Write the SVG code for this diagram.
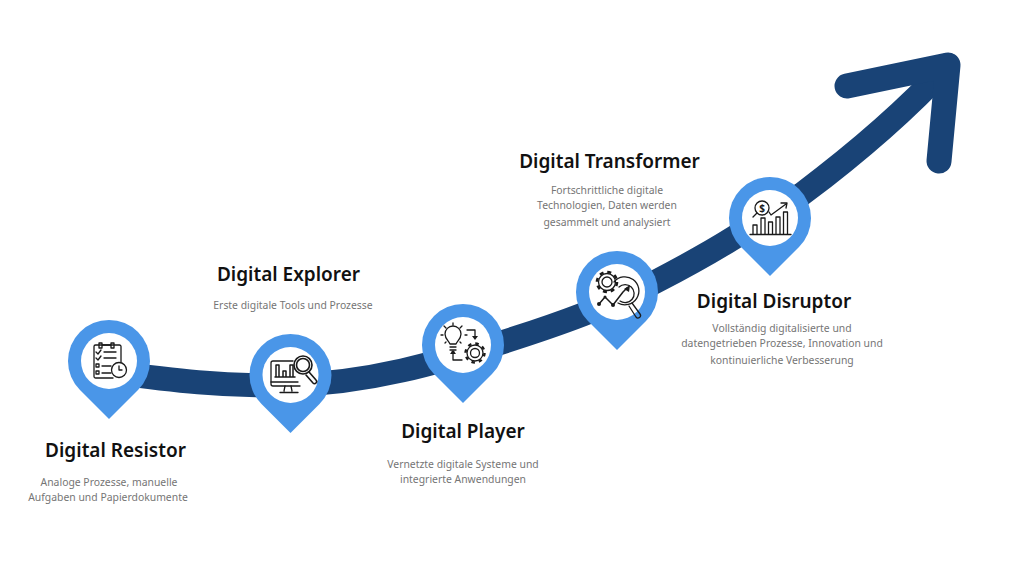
<svg xmlns="http://www.w3.org/2000/svg" width="1024" height="576" viewBox="0 0 1024 576">
<style>
.pin{fill:#4a96e8}.hole{fill:#fff}
.band{fill:none;stroke:#194376;stroke-linecap:round;stroke-linejoin:round}
.ic{fill:none;stroke:#1a1a1a;stroke-width:1.3;stroke-linecap:round;stroke-linejoin:round}
.icb{fill:#1a1a1a;stroke:none}
.h{font-family:"Noto Sans",sans-serif;font-weight:600;font-size:19px;fill:#111;text-anchor:middle}
.d{font-family:"Noto Sans",sans-serif;font-size:10.4px;fill:#757575;text-anchor:middle}
</style>
<defs>
<path id="p" class="pin" d="M-29 29A41 41 0 1 1 29 29L0 58Z"/>
<circle id="o" class="hole" r="28"/>
</defs>
<rect width="1024" height="576" fill="#fff"/>
<g id="connectors">
<path class="band" stroke-width="24" d="M110 372C170 380 225 387 290 385C370 383 440 362 500 343C560 324 610 306 655 282C682 268 708 254 735 237C758 223 781 208 802 194C846 161 900 117 948 65"/>
<path class="band" stroke-width="25" d="M847 86L948 65L939 161"/>
</g>
<g id="node-resistor">
<use href="#p" x="109" y="361"/><use href="#o" x="109" y="361"/>
<g class="ic"><path d="M113 378H95.500a1.500 1.500 0 0 1-1.500-1.500V346.500a1.500 1.500 0 0 1 1.500-1.500H119.500a1.500 1.500 0 0 1 1.500 1.500V362"/><path d="M99 343h3v5h-3zM111 343h3v5h-3zM102 345h9"/><path d="M96 352l2 2 3-4M96 358l2 2 3-4M104 352h12M104 358h12M96 364h3v3h-3zM96 371h3v3h-3zM102 366h9M102 373h9"/><circle cx="119" cy="370" r="7.500"/><path d="M119 366v4h3"/></g>
</g>
<g id="node-explorer">
<use href="#p" x="290.500" y="375"/><use href="#o" x="290.500" y="375"/>
<g class="ic"><path d="M300 386H273a2 2 0 0 1-2-2V363a2 2 0 0 1 2-2H293"/><path d="M271 382H298M285 386l-1 5M291 386l1 5M280 392.500h18"/><path stroke-width="1.500" d="M276 377v-12h3v12M283 377v-6h3v6M290 377v-12h3v12M275 377h20"/><g stroke-width="1.600"><circle cx="303" cy="365" r="9"/><circle cx="303" cy="365" r="6.500"/><path d="M309 372l7 8a1.800 1.800 0 0 1-3 3l-7-8"/></g></g>
</g>
<g id="node-player">
<use href="#p" x="463" y="345"/><use href="#o" x="463" y="345"/>
<g class="ic"><path d="M450 344c-1-3-5-5-5-10a8 8 0 0 1 16 0c0 5-4 7-5 10zM450 347h6M450 350h6M452 352h2"/><path d="M453 323v2M444 326l2 2M462 326l-2 2M441 335h2M465 335h2M445 343l1-1M461 343l-1-1"/><path d="M467 330h8v6"/><path class="icb" d="M472 336h6l-3 4z"/><path d="M462 360h-9v-6"/><path class="icb" d="M450 354h6l-3-4z"/><circle cx="475" cy="353" r="4.500"/><circle cx="475" cy="353" r="8"/><circle cx="475" cy="353" r="9.500" stroke-width="2.400" stroke-dasharray="3.500 3.960" stroke-linecap="butt"/></g>
</g>
<g id="node-transformer">
<use href="#p" x="617" y="292"/><use href="#o" x="617" y="292"/>
<g class="ic"><circle cx="607" cy="282" r="5"/><circle cx="607" cy="282" r="8.500"/><circle cx="607" cy="282" r="10" stroke-width="2.600" stroke-dasharray="4 3.850" stroke-linecap="butt"/><path d="M614 282a14 14 0 1 1 4 21" fill="none"/><path d="M619 287a9 9 0 1 1 1 14"/><path d="M632 303l8 11a2.500 2.500 0 0 1-4 3l-7-11"/><path stroke-width="1.500" d="M599 304l6-7 8 8 10-13 4-4"/><circle class="icb" cx="599" cy="304" r="2"/><circle class="icb" cx="605" cy="297" r="1.500"/><circle class="icb" cx="613" cy="305" r="2"/><path class="icb" d="M624 289l6-4-1 7z"/></g>
</g>
<g id="node-disruptor">
<use href="#p" x="770" y="218"/><use href="#o" x="770" y="218"/>
<g class="ic"><path d="M750 234.500h41"/><path d="M753 234v-9h4v9M761 234v-16h4v16M768.500 234v-12h4v12M776 234v-17h4v17M783.500 234v-22h4v22"/><circle cx="762" cy="208" r="7"/><path d="M753 217l4-4M769 212l2 3 15-11"/><path d="M781 203h6l-1 5"/></g>
<text x="762" y="212" font-family="Noto Sans,sans-serif" font-size="10" font-weight="700" fill="#1a1a1a" text-anchor="middle">$</text>
</g>
<g id="label-resistor"><text class="h" x="115.500" y="457">Digital Resistor</text><text class="d" x="109" y="486">Analoge Prozesse, manuelle</text><text class="d" x="108" y="501">Aufgaben und Papierdokumente</text></g>
<g id="label-explorer"><text class="h" x="288.500" y="281">Digital Explorer</text><text class="d" x="293" y="309">Erste digitale Tools und Prozesse</text></g>
<g id="label-player"><text class="h" x="463" y="438">Digital Player</text><text class="d" x="463" y="468">Vernetzte digitale Systeme und</text><text class="d" x="463" y="483">integrierte Anwendungen</text></g>
<g id="label-transformer"><text class="h" x="609.500" y="168">Digital Transformer</text><text class="d" x="607" y="194">Fortschrittliche digitale</text><text class="d" x="607" y="209">Technologien, Daten werden</text><text class="d" x="607" y="226">gesammelt und analysiert</text></g>
<g id="label-disruptor"><text class="h" x="774" y="308">Digital Disruptor</text><text class="d" x="782" y="332">Vollständig digitalisierte und</text><text class="d" x="782" y="347">datengetrieben Prozesse, Innovation und</text><text class="d" x="782" y="364">kontinuierliche Verbesserung</text></g>
</svg>
